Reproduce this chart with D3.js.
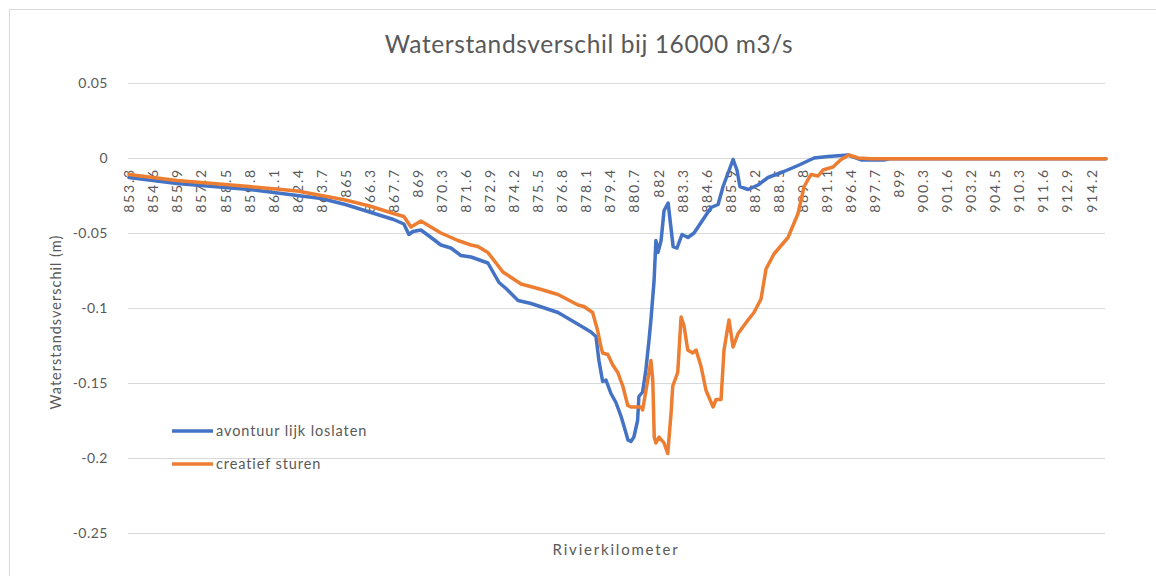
<!DOCTYPE html>
<html>
<head>
<meta charset="utf-8">
<script src="https://cdnjs.cloudflare.com/ajax/libs/d3/7.8.5/d3.min.js"></script>
<style>
  body { margin: 0; background: #fff; }
  text { font-family: Lato, "Open Sans", sans-serif; fill: #595959; }
</style>
</head>
<body>
<div id="chart"></div>
<script>
// category labels shown on the x axis (every 13th river km)
var xTickKm = [853.3, 854.6, 855.9, 857.2, 858.5, 859.8, 861.1, 862.4, 863.7, 865,
  866.3, 867.7, 869, 870.3, 871.6, 872.9, 874.2, 875.5, 876.8, 878.1,
  879.4, 880.7, 882, 883.3, 884.6, 885.9, 887.2, 888.5, 889.8, 891.1,
  896.4, 897.7, 899, 900.3, 901.6, 903.2, 904.5, 910.3, 911.6, 912.9, 914.2];
var yTicks = [0.05, 0, -0.05, -0.1, -0.15, -0.2, -0.25];

// avontuurlijk loslaten
var blueKm = [853.3, 855.9, 859.8, 862.4, 863.7, 865.0, 866.3, 867.7, 868.26, 868.53,
  868.75, 869.18, 869.62, 870.26, 870.8, 871.34, 871.89, 872.8, 873.4, 873.78,
  874.43, 875.13, 876.59, 877.83, 878.37, 878.64, 878.8, 879.0, 879.18, 879.45,
  879.72, 879.99, 880.16, 880.37, 880.53, 880.69, 880.89, 880.96, 881.16, 881.34,
  881.51, 881.61, 881.78, 881.88, 881.99, 882.16, 882.32, 882.54, 882.81, 883.02,
  883.29, 883.61, 883.94, 884.32, 884.59, 884.86, 885.24, 885.51, 885.78, 886.05,
  886.26, 886.42, 886.86, 887.4, 887.94, 888.8, 889.56, 890.43, 891.43, 895.84,
  896.97, 898.21, 898.5, 915.0];
var blueVal = [-0.013, -0.017, -0.021, -0.025, -0.027, -0.031, -0.036, -0.041, -0.044, -0.051,
  -0.049, -0.048, -0.052, -0.058, -0.060, -0.065, -0.066, -0.070, -0.083, -0.087,
  -0.095, -0.097, -0.103, -0.112, -0.116, -0.119, -0.135, -0.149, -0.148, -0.157,
  -0.163, -0.172, -0.179, -0.188, -0.189, -0.186, -0.175, -0.159, -0.156, -0.141,
  -0.121, -0.108, -0.082, -0.055, -0.063, -0.055, -0.035, -0.030, -0.059, -0.060,
  -0.051, -0.053, -0.050, -0.043, -0.038, -0.033, -0.031, -0.019, -0.010, -0.001,
  -0.008, -0.019, -0.021, -0.018, -0.013, -0.009, -0.005, 0.000, 0.001, 0.002,
  -0.0013, -0.0013, -0.0005, -0.0005];

// creatief sturen
var orangeKm = [853.3, 855.9, 859.8, 862.4, 863.7, 865.0, 866.3, 867.7, 868.26, 868.64,
  869.18, 870.26, 871.18, 871.89, 872.26, 872.8, 873.61, 874.59, 875.5, 876.59,
  877.67, 877.99, 878.46, 878.73, 878.91, 879.0, 879.28, 879.55, 879.82, 880.09,
  880.36, 880.53, 881.07, 881.16, 881.44, 881.61, 881.71, 881.79, 881.88, 882.05,
  882.32, 882.52, 882.7, 882.79, 883.06, 883.24, 883.4, 883.6, 883.87, 884.05,
  884.32, 884.59, 884.97, 885.13, 885.4, 885.56, 885.83, 886.05, 886.32, 886.86,
  887.18, 887.56, 887.83, 888.26, 889.02, 889.56, 889.89, 890.26, 890.64, 890.91,
  892.53, 894.3, 896.06, 896.81, 897.5, 915.0];
var orangeVal = [-0.011, -0.015, -0.019, -0.022, -0.025, -0.028, -0.032, -0.037, -0.039, -0.046,
  -0.042, -0.050, -0.055, -0.058, -0.059, -0.063, -0.076, -0.084, -0.087, -0.091,
  -0.098, -0.099, -0.103, -0.115, -0.126, -0.130, -0.131, -0.138, -0.143, -0.152,
  -0.165, -0.166, -0.166, -0.168, -0.148, -0.135, -0.148, -0.186, -0.190, -0.186,
  -0.190, -0.197, -0.170, -0.152, -0.143, -0.106, -0.112, -0.128, -0.130, -0.128,
  -0.139, -0.155, -0.166, -0.161, -0.161, -0.128, -0.108, -0.126, -0.117, -0.108,
  -0.103, -0.094, -0.074, -0.064, -0.053, -0.037, -0.019, -0.011, -0.012, -0.008,
  -0.006, -0.001, 0.002, 0.000, -0.0005, -0.0005];

var seriesNames = ["avontuur lijk loslaten", "creatief sturen"];
var seriesColors = ["#4472C4", "#ED7D31"];

var W = 1156, H = 576;
var plotLeft = 128, plotRight = 1105, plotTop = 83, plotBottom = 533;
var nCat = 528, catsPerLabel = 13;

var svg = d3.select("#chart").append("svg")
  .attr("width", W).attr("height", H);

// chart border
svg.append("rect")
  .attr("x", 9.5).attr("y", 9.5)
  .attr("width", 1200).attr("height", 700)
  .attr("fill", "none").attr("stroke", "#d9d9d9");

// category index -> pixel, then km labels placed on their category
var xIdx = d3.scaleLinear().domain([0, nCat]).range([plotLeft, plotRight]);
var x = d3.scaleLinear()
  .domain(xTickKm)
  .range(xTickKm.map(function (d, i) { return xIdx(i * catsPerLabel + 0.5); }));
var y = d3.scaleLinear().domain([-0.25, 0.05]).range([plotBottom, plotTop]);

// y axis with gridlines
var yAxis = svg.append("g")
  .attr("transform", "translate(" + plotLeft + ",0)")
  .call(d3.axisLeft(y).tickValues(yTicks).tickSize(-(plotRight - plotLeft))
    .tickPadding(20).tickFormat(function (d) { return String(d); }));
yAxis.select(".domain").remove();
yAxis.selectAll("line").attr("stroke", "#d9d9d9");
yAxis.selectAll("text").style("font-size", "14px").attr("fill", "#595959")
  .style("letter-spacing", "0.5px");

// x axis labels sitting on the zero line
var xAxis = svg.append("g")
  .attr("transform", "translate(0," + y(0) + ")")
  .call(d3.axisBottom(x).tickValues(xTickKm).tickSize(0)
    .tickFormat(function (d) { return String(d); }));
xAxis.select(".domain").remove();
xAxis.selectAll("text")
  .attr("transform", "rotate(-90)")
  .attr("text-anchor", "end")
  .attr("x", -10).attr("y", 0).attr("dy", "0.35em")
  .attr("fill", "#595959")
  .style("font-size", "14px")
  .style("letter-spacing", "1.8px");

// series lines
var line = d3.line()
  .x(function (d) { return x(d[0]); })
  .y(function (d) { return y(d[1]); });

[[blueKm, blueVal], [orangeKm, orangeVal]].forEach(function (s, i) {
  svg.append("path")
    .datum(d3.zip(s[0], s[1]))
    .attr("d", line)
    .attr("fill", "none")
    .attr("stroke", seriesColors[i])
    .attr("stroke-width", 3.5)
    .attr("stroke-linejoin", "round")
    .attr("stroke-linecap", "round");
});

// title
svg.append("text")
  .attr("x", 589).attr("y", 53)
  .attr("text-anchor", "middle")
  .style("font-size", "24.5px")
  .style("letter-spacing", "0.6px")
  .text("Waterstandsverschil bij 16000 m3/s");

// axis titles
svg.append("text")
  .attr("x", 616).attr("y", 555)
  .attr("text-anchor", "middle")
  .style("font-size", "15px")
  .style("letter-spacing", "1.8px")
  .text("Rivierkilometer");

svg.append("text")
  .attr("transform", "translate(61,322) rotate(-90)")
  .attr("text-anchor", "middle")
  .style("font-size", "14.5px")
  .style("letter-spacing", "1px")
  .text("Waterstandsverschil (m)");

// legend
var legend = svg.selectAll(".legend")
  .data(seriesNames)
  .enter().append("g")
  .attr("transform", function (d, i) { return "translate(172," + (431 + i * 33) + ")"; });
legend.append("line")
  .attr("x1", 0).attr("x2", 41)
  .attr("stroke", function (d, i) { return seriesColors[i]; })
  .attr("stroke-width", 3.5);
legend.append("text")
  .attr("x", 44).attr("dy", "0.35em")
  .style("font-size", "14.5px")
  .style("letter-spacing", "0.9px")
  .text(function (d) { return d; });
</script>
</body>
</html>
